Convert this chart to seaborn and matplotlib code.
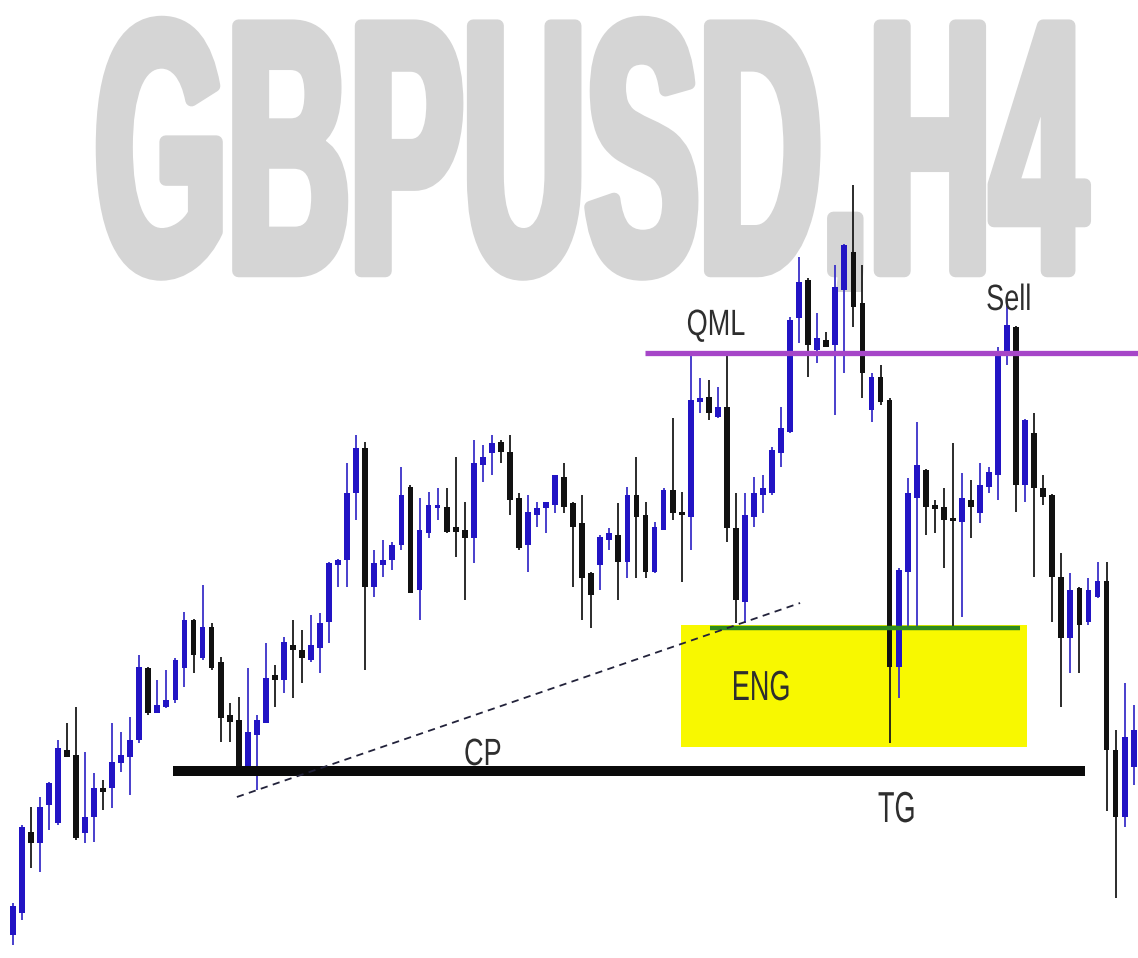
import numpy as np
import pandas as pd
import matplotlib
matplotlib.use('Agg')
import matplotlib.pyplot as plt
import seaborn as sns
from matplotlib.patches import Rectangle
from matplotlib.patheffects import AbstractPathEffect
from matplotlib.transforms import Affine2D, Bbox

# GBPUSD H4 candles, prices given in pips above 1.2000
opens = [65, 87, 168, 157, 195, 177, 250, 245, 167, 183,
         212, 212, 237, 243, 260, 332, 287, 293, 300, 332,
         380, 342, 373, 338, 285, 280, 227, 265, 277, 325,
         320, 355, 350, 340, 352, 378, 435, 440, 507, 552,
         413, 435, 440, 455, 513, 410, 467, 492, 493, 473,
         470, 462, 535, 547, 558, 548, 502, 455, 485, 492,
         495, 523, 497, 477, 427, 435, 460, 465, 438, 505,
         485, 428, 470, 510, 488, 483, 598, 603, 583, 593,
         472, 398, 483, 505, 507, 547, 568, 682, 720, 650,
         660, 655, 710, 748, 697, 590, 623, 600, 333, 428,
         502, 530, 495, 493, 482, 478, 500, 487, 513, 525,
         645, 673, 515, 567, 512, 505, 423, 362, 412, 378,
         403, 419, 250, 183, 233]
highs = [97, 175, 193, 203, 218, 260, 277, 293, 248, 227,
         220, 277, 268, 283, 345, 333, 320, 330, 342, 388,
         381, 415, 377, 343, 297, 303, 332, 285, 357, 335,
         363, 380, 370, 385, 387, 438, 441, 537, 565, 558,
         450, 460, 458, 533, 515, 502, 508, 512, 512, 543,
         498, 560, 555, 565, 560, 565, 507, 505, 498, 498,
         525, 537, 498, 505, 428, 465, 472, 497, 513, 543,
         498, 478, 512, 582, 508, 645, 622, 620, 613, 645,
         507, 507, 523, 525, 553, 593, 683, 743, 722, 687,
         668, 735, 756, 815, 735, 627, 635, 602, 432, 522,
         578, 531, 500, 512, 557, 527, 520, 537, 533, 653,
         697, 674, 581, 587, 525, 506, 447, 427, 413, 422,
         438, 438, 270, 317, 295]
lows = [55, 80, 132, 128, 170, 175, 243, 160, 157, 158,
        190, 192, 228, 205, 257, 285, 287, 292, 297, 313,
        327, 340, 330, 258, 258, 227, 227, 210, 277, 293,
        307, 302, 317, 338, 327, 357, 413, 413, 480, 330,
        403, 423, 430, 450, 407, 380, 462, 480, 467, 443,
        400, 437, 518, 525, 537, 485, 450, 428, 473, 467,
        487, 487, 413, 380, 372, 410, 450, 400, 422, 422,
        422, 427, 470, 480, 418, 450, 587, 580, 582, 458,
        377, 377, 473, 487, 505, 533, 567, 657, 623, 637,
        653, 585, 627, 673, 602, 578, 595, 257, 302, 372,
        372, 465, 467, 432, 372, 383, 462, 477, 507, 500,
        635, 488, 498, 423, 495, 378, 293, 327, 327, 375,
        402, 189, 102, 173, 215]
closes = [94, 173, 157, 193, 217, 252, 243, 162, 183, 212,
          208, 238, 245, 260, 333, 287, 295, 300, 340, 380,
          345, 373, 332, 282, 278, 227, 268, 280, 322, 320,
          358, 350, 342, 355, 377, 437, 440, 507, 552, 413,
          437, 440, 455, 505, 407, 470, 495, 495, 468, 468,
          462, 537, 543, 557, 548, 500, 452, 488, 492, 498,
          525, 493, 473, 422, 405, 463, 467, 438, 505, 483,
          428, 473, 510, 487, 485, 600, 602, 587, 593, 472,
          400, 485, 507, 512, 550, 572, 680, 718, 655, 662,
          653, 713, 755, 693, 627, 623, 598, 333, 430, 507,
          535, 493, 491, 480, 479, 502, 493, 515, 528, 647,
          675, 515, 580, 512, 503, 423, 362, 410, 375, 410,
          419, 250, 183, 263, 270]

BASE = 1.2000
PIP = 0.0001

# levels drawn on the chart (price)
qml_level = 1.2647
cp_level = 1.2229
eng_top = 1.2372
eng_zone = (1.2253, 1.2375)
trend_pts = [(24.8, 1.2203), (87.1, 1.2397)]

W, H, DPI = 1138, 958, 100


class Stretch(AbstractPathEffect):
    """draw text glyphs scaled from the left end of the baseline"""
    def __init__(self, sx=1.0, sy=1.0, grow=0.0, color=None, clip_y=None):
        super().__init__()
        self.sx = sx
        self.sy = sy
        self.grow = grow
        self.color = color
        self.clip_y = clip_y

    def draw_path(self, renderer, gc, tpath, affine, rgbFace=None):
        aff = Affine2D().scale(self.sx, self.sy) + affine
        gc0 = renderer.new_gc()
        gc0.copy_properties(gc)
        if self.grow > 0:
            gc0.set_linewidth(self.grow)
            gc0.set_foreground(self.color if self.color else rgbFace)
            gc0.set_joinstyle('round')
        if self.clip_y is not None:
            gc0.set_clip_rectangle(Bbox.from_extents(0, self.clip_y, W, H))
        renderer.draw_path(gc0, tpath, aff, rgbFace)
        gc0.restore()


df = pd.DataFrame({'open': opens, 'high': highs, 'low': lows, 'close': closes})
df[['open', 'high', 'low', 'close']] = BASE + df[['open', 'high', 'low', 'close']] * PIP
df['idx'] = np.arange(len(df))
df['bull'] = df['close'] >= df['open']
df['bottom'] = df[['open', 'close']].min(axis=1)
df['body'] = (df['close'] - df['open']).abs().clip(lower=2 * PIP)

sns.set_theme(style='white')
plt.rcParams['font.family'] = ['Liberation Sans', 'DejaVu Sans']

fig = plt.figure(figsize=(W / DPI, H / DPI), dpi=DPI)
ax = fig.add_axes([0, 0, 1, 1])
ax.set_xlim(-1.405, 124.48)
ax.set_ylim(1.2042, 1.3000)
ax.axis('off')

# 浮水印 (字放大 2.8 倍，再垂直拉長，逗號尾巴截短)
wm_color = '#d5d5d5'
em_px = 60
ax.text(95 / W, 1 - 271 / H, 'GBPUSD,H4', transform=ax.transAxes,
        fontsize=em_px * 72 / DPI, fontweight='bold', color=wm_color,
        ha='left', va='baseline', zorder=0,
        path_effects=[Stretch(2.83, 2.83 * 2.1, grow=9, color=wm_color, clip_y=H - 292)])

# ENG zone
ax.add_patch(Rectangle((73.9, eng_zone[0]), 112.2 - 73.9, eng_zone[1] - eng_zone[0],
                       facecolor='#f8f800', edgecolor='none', zorder=1))

blue = '#2214c4'
bull = df[df['bull']]
bear = df[~df['bull']]
ax.vlines(bull['idx'], bull['low'], bull['high'], colors='#3a30c8', linewidth=1.3, zorder=2)
ax.vlines(bear['idx'], bear['low'], bear['high'], colors='#1a1a1a', linewidth=1.3, zorder=2)
ax.bar(bull['idx'], bull['body'], bottom=bull['bottom'], width=0.64, color=blue, linewidth=0, zorder=3)
ax.bar(bear['idx'], bear['body'], bottom=bear['bottom'], width=0.64, color='#111111', linewidth=0, zorder=3)

# 水平線
ax.hlines(qml_level, 69.95, 124.48, colors='#a646c8', linewidth=3.8, zorder=4)
ax.hlines(cp_level, 17.7, 118.6, colors='#0a0a0a', linewidth=7.2, zorder=4)
ax.hlines(eng_top, 77.1, 111.4, colors='#2e8a1e', linewidth=3.2, zorder=4)
ax.plot([p[0] for p in trend_pts], [p[1] for p in trend_pts], color='#22223a',
        linewidth=1.3, dashes=(4, 3), zorder=4)

lab = dict(fontsize=19.5, color='#2e2e2e', ha='center', va='baseline', zorder=5)
ax.text(77.8, 1.2665, 'QML', path_effects=[Stretch(1.0, 1.35)], **lab)
ax.text(110.2, 1.2690, 'Sell', path_effects=[Stretch(1.0, 1.35)], **lab)
ax.text(52.0, 1.2235, 'CP', path_effects=[Stretch(1.0, 1.4)], **lab)
ax.text(97.8, 1.2178, 'TG', path_effects=[Stretch(1.0, 1.6)], **lab)
ax.text(82.8, 1.2300, 'ENG', path_effects=[Stretch(1.0, 1.55)], **lab)

plt.savefig('out.png', dpi=DPI)
